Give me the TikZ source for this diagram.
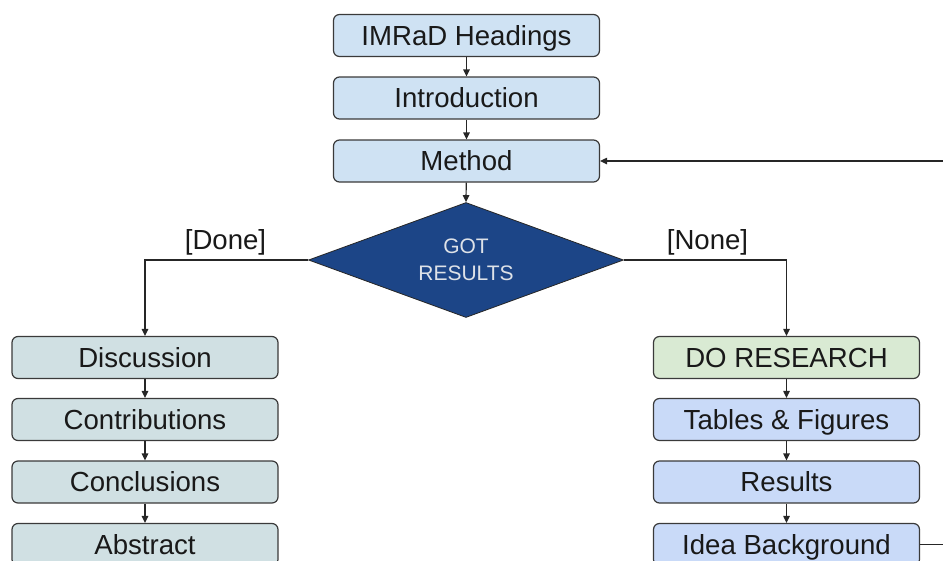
\documentclass[tikz,border=0pt]{standalone}
\usepackage{fontspec}
\setmainfont{Liberation Sans}
\usetikzlibrary{shapes.geometric,arrows.meta}
\definecolor{cblue}{HTML}{CFE2F3}
\definecolor{ccyan}{HTML}{D0E0E3}
\definecolor{cgreen}{HTML}{D9EAD3}
\definecolor{ccorn}{HTML}{C9DAF8}
\definecolor{cdia}{HTML}{1C4587}
\definecolor{cline}{HTML}{262626}
\definecolor{cborder}{HTML}{3A3A3A}
\definecolor{cdtext}{RGB}{222,226,232}
\begin{document}
\begin{tikzpicture}[x=1pt,y=-1pt,
  boxstyle/.style={draw=cborder, line width=1.2pt, rounded corners=6pt,
    minimum width=266pt, minimum height=42pt, inner sep=0pt,
    text height=19.7pt, text depth=0pt,
    font=\fontsize{27.6pt}{30pt}\selectfont, text=black!90},
  decision/.style={diamond, draw=black!85, line width=0.8pt, fill=cdia,
    minimum width=315pt, minimum height=115pt, aspect=2.74, inner sep=0pt,
    align=center, text=cdtext, font=\fontsize{21pt}{27pt}\selectfont},
  lbl/.style={inner sep=0pt, text height=19.7pt, text depth=0pt,
    font=\fontsize{27.6pt}{30pt}\selectfont, text=black!90},
  arr/.style={draw=cline, line width=1.2pt, -{Triangle[length=7pt,width=6.5pt]}},
  ]
\useasboundingbox (0,0) rectangle (943,560);
\clip (0,0) rectangle (943,560);

\node[boxstyle, fill=cblue] (imrad) at (466.5,35.5) {IMRaD Headings};
\node[boxstyle, fill=cblue] (intro) at (466.5,98) {Introduction};
\node[boxstyle, fill=cblue] (method) at (466.5,161) {Method};
\node[decision] (got) at (466,260) {GOT\\RESULTS};

\node[boxstyle, fill=ccyan] (disc) at (145,357.5) {Discussion};
\node[boxstyle, fill=ccyan] (contrib) at (145,419.5) {Contributions};
\node[boxstyle, fill=ccyan] (concl) at (145,482) {Conclusions};
\node[boxstyle, fill=ccyan] (abstract) at (145,544.5) {Abstract};

\node[boxstyle, fill=cgreen] (dores) at (786.5,357.5) {DO RESEARCH};
\node[boxstyle, fill=ccorn] (tables) at (786.5,419.5) {Tables \& Figures};
\node[boxstyle, fill=ccorn] (results) at (786.5,482) {Results};
\node[boxstyle, fill=ccorn] (idea) at (786.5,544.5) {Idea Background};

\node[lbl] (done) at (225.5,240) {[Done]};
\node[lbl] (none) at (707.5,240) {[None]};

\coordinate (loop) at (965,352);

\draw[arr] (imrad) -- (intro);
\draw[arr] (intro) -- (method);
\draw[arr] (method) -- (got.north);
\draw[arr] (got.west) -| (disc.north);
\draw[arr] (got.east) -| (dores.north);
\draw[arr] (disc) -- (contrib);
\draw[arr] (contrib) -- (concl);
\draw[arr] (concl) -- (abstract);
\draw[arr] (dores) -- (tables);
\draw[arr] (tables) -- (results);
\draw[arr] (results) -- (idea);
\draw[arr] (idea.east) -- (idea.east -| loop) |- (method.east);
\end{tikzpicture}
\end{document}
